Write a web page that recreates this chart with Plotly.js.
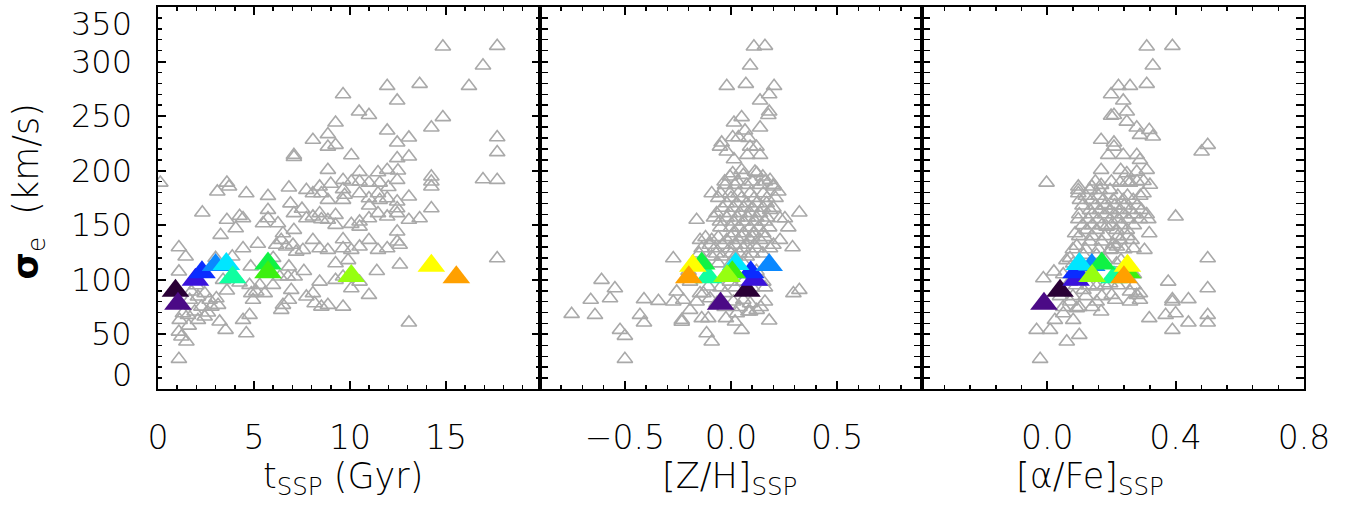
<!DOCTYPE html>
<html>
<head>
<meta charset="utf-8">
<script src="https://cdn.plot.ly/plotly-3.0.1.min.js"></script>
<style>html,body{margin:0;padding:0;background:#fff;}</style>
</head>
<body>
<div id="chart" style="width:1357px;height:505px;"></div>
<script>
// ---------- grey sample: panel 1 (t_SSP vs sigma_e) ----------
const tGrey = [14.84,17.67,16.93,16.2,11.94,13.63,9.64,12.46,10.47,10.99,14.84,14.24,9.25,11.94,8.07,8.85,8.85,9.25,12.46,13.07,17.67,17.67,7.08,7.08,10.07,12.46,13.07,8.85,10.5,11.46,11.94,12.5,9.64,10.07,10.5,10.99,11.55,12.46,14.24,14.24,14.24,16.93,17.67,0.12,3.59,3.7,3.09,4.6,5.73,6.82,7.73,8.07,8.42,8.51,8.85,9.64,9.64,9.72,10.5,10.99,11.46,11.55,11.94,12.46,12.46,13.07,14.24,13.63,13.07,2.31,3.26,3.59,4.25,4.43,4.05,5.73,5.73,5.47,6.25,7.08,7.08,7.73,8.07,8.42,8.51,8.85,9.25,9.25,10.07,10.5,10.5,10.99,11.46,11.94,12.46,6.51,6.42,6.16,6.68,7.03,7.55,7.2,8.07,8.42,8.85,9.64,9.64,10.07,10.5,10.99,11.46,11.94,12.46,12.46,12.59,1.09,1.44,1.09,1.74,4.43,4.83,3.87,6.82,6.34,6.77,7.12,5.3,5.12,5.56,5.99,6.94,6.82,6.51,6.42,8.42,9.25,9.25,9.64,10.07,10.5,10.99,7.73,8.07,8.16,8.51,8.85,9.64,4.77,4.86,4.95,4.77,4.43,4.6,3.52,3.21,2.08,2.43,2.69,3.04,2.78,3.13,2.26,1.91,1.56,2.08,2.43,1.13,1.3,1.65,1.09,1.22,1.48,1.09,13.07,17.67,3.39,3.59,4.25,
  6.9,7.5,9.0,11.0,12.0,5.2,3.0,2.0,2.6,1.6,7.6,9.9,11.4,12.6,6.0];
const sigmaGreyT = [313.7,314.3,296.3,277.6,277.6,279.5,270,264.2,254.1,251,249,239.5,244,236.7,228.2,233.4,222,223.6,225.7,230.3,230.6,216.9,214.4,212.5,214.1,211.4,212.9,200.7,198.8,198.5,200.7,200.1,191.5,190,190,189,189,191.5,194.6,190,185.4,192.1,191.5,189,189,185.4,180.8,179.3,176.8,184.5,182.3,179.3,185.4,179.3,173.2,183,173.2,177.8,179.3,174.7,179.3,173.2,174.7,171.7,165.5,176.2,165.5,156.4,154.9,161.6,141.1,154.9,158.5,156.4,147.2,164,156.4,151.8,151.8,161,145.7,156.4,157.9,161,155.5,154.9,159.4,150.3,151.2,153.3,148.7,156.4,161,157.9,161,142.6,136.5,132,130.4,132,127.4,125.8,136.5,128.9,127.4,137.1,128.9,127.4,130.4,136.5,127.4,128.9,144.2,135,132,129.8,121.3,107.5,89.2,128.9,112.1,121.3,112.1,102.9,102.9,102.9,95.3,89.2,87.7,95.3,90.7,81.6,77,72.4,98.3,115.1,99.9,102.9,92.2,98.3,86.1,84.6,87.7,78.5,75.4,77,75.4,95.3,87.7,81.6,67.8,63.2,51,54.1,61.7,84.6,87.7,81.6,83.1,75.4,77,75.4,70.9,67.8,63.2,66.3,63.2,69.3,81.6,52.5,48,43.4,27.5,60.8,119.7,99.9,90.1,97.4,
  170,165,188,168,185,133,120,95,70,58,108,118,108,114,120];

// ---------- grey sample: panel 2 ([Z/H]_SSP vs sigma_e) ----------
const zhGrey = [0.108,0.16,0.09,-0.02,0.07,0.203,0.18,0.137,0.18,0.176,0.05,0.014,0.137,0.066,0.008,-0.044,-0.052,-0.02,0.035,0.082,0.09,0.12,0.077,0.137,0.014,0.05,0.008,0.113,0.184,0.15,0.223,0.2,0.322,0.254,0.231,0.231,0.29,-0.272,-0.61,-0.547,-0.57,-0.661,-0.751,-0.641,-0.41,-0.342,-0.429,-0.41,-0.523,-0.5,-0.5,-0.232,-0.232,-0.115,-0.091,0.05,0.019,-0.024,0.09,0.18,0.16,0.294,0.322,-0.256,-0.272,-0.225,-0.193,-0.162,-0.146,-0.107,-0.138,-0.107,
  -0.005,0.058,0.121,-0.028,0.019,0.074,0.137,0.2,-0.091,-0.049,-0.005,0.035,0.09,0.152,-0.02,0.027,0.074,0.121,0.168,-0.068,-0.005,0.042,0.09,0.137,0.184,-0.162,-0.052,0.011,0.058,0.113,0.16,0.011,0.058,0.105,0.152,-0.146,-0.091,-0.02,0.035,0.09,0.137,-0.138,-0.075,-0.005,0.058,0.121,0.184,-0.091,-0.044,0.019,0.074,-0.005,0.058,0.152,-0.193,-0.13,-0.099,-0.068,-0.028,0.011,0.058,0.09,0.121,0.082,0.027,
  -0.03,0.03,0.1,0.16,-0.06,0.0,0.05,0.11,0.17,0.21,-0.04,0.01,0.06,0.1,0.15,0.2,-0.08,-0.02,0.03,0.08,0.12,0.17,-0.05,0.0,0.04,0.09,0.13,0.18,0.27,-0.12,-0.06,0.0,0.05,0.1,0.16,-0.1,-0.04,0.02,0.07,0.11,0.2,-0.15,-0.07,0.0,0.04,0.1,0.15,-0.12,-0.06,0.0,0.06,-0.2,0.12,-0.05,0.02,0.1,0.16,-0.03,0.04,0.14];
const sigmaGreyZ = [313.7,314.3,296.3,277.6,279.5,277.6,270,264.2,254.1,251,249,244,239.5,236.7,230.6,225.7,222,217.5,230.6,230,222,222,214.4,214.4,210.4,200.7,197.6,199.1,191.5,194.6,180.8,185.4,161.6,156.4,156.4,136.5,129.8,119.7,99.9,92.2,83.1,81.6,68.7,67.8,82.2,80.6,67.8,60.8,54.1,48.6,27.5,63.2,61.5,51,43.4,54.1,61.7,64.8,70.9,62.6,80,87.7,90.7,89.2,80,81.6,72.4,80,87.7,93.8,64.8,64.8,
  194.6,196.1,197.6,186.9,186.9,186.9,186.9,186.9,179.3,179.3,179.3,179.3,179.3,179.3,170.1,170.1,170.1,170.1,170.1,161,161,161,161,161,164,154.9,153.3,153.3,153.3,153.3,153.3,142.6,142.6,142.6,142.6,136.5,136.5,136.5,136.5,136.5,136.5,128.9,128.9,128.9,128.9,128.9,128.9,121.3,121.3,121.3,121.3,98.3,98.3,98.3,98.3,87.7,83,78.5,87.7,80,81.6,78.5,72.4,70.9,69.3,
  190,190,190,190,175,175,175,175,175,175,166,166,166,166,166,166,157,157,157,157,157,157,148,148,148,148,148,148,148,139,139,139,139,139,139,132,132,132,132,132,132,124,124,124,124,124,124,115,115,115,115,108,108,93,93,93,93,75,75,75];

// ---------- grey sample: panel 3 ([alpha/Fe]_SSP vs sigma_e) ----------
const afeGrey = [0.31,0.39,0.329,0.222,0.258,0.31,0.199,0.237,0.248,0.199,0.208,0.248,0.279,0.318,0.329,0.289,0.168,0.208,0.208,0.5,0.481,0.19,0.237,0.279,0.289,0.168,0.229,0.248,0.279,0.31,-0.002,0.097,0.097,0.139,0.168,0.4,0.318,0.5,0.5,0.5,0.5,0.377,0.39,0.39,0.44,0.369,0.4,0.44,0.39,0.318,-0.012,0.021,-0.033,0.009,0.061,0.1,-0.022,0.024,0.081,0.05,0.092,0.071,0.168,0.154,0.201,0.212,0.258,0.279,0.289,0.303,0.263,0.227,0.217,0.269,
  0.097,0.133,0.164,0.196,0.227,0.258,0.3,0.32,0.102,0.139,0.175,0.206,0.237,0.268,0.3,0.133,0.164,0.196,0.227,0.258,0.294,0.097,0.128,0.159,0.196,0.222,0.253,0.289,0.315,0.087,0.123,0.154,0.185,0.216,0.248,0.092,0.133,0.17,0.206,0.071,0.113,0.154,0.196,0.081,0.133,0.216,0.071,0.113,0.154,0.196,0.258,0.289,
  0.15,0.2,0.25,0.28,0.12,0.16,0.22,0.25,0.29,0.11,0.15,0.18,0.21,0.24,0.28,0.1,0.14,0.18,0.21,0.24,0.27,0.31,0.11,0.14,0.17,0.2,0.23,0.27,0.1,0.14,0.18,0.22,0.25,0.08,0.12,0.16,0.2,0.24,0.06,0.1,0.18,0.23,0.05,0.11,0.27,0.09,0.13,0.18,0.22,0.27,0.04,0.08,0.12,0.17,0.05,0.1,0.14];
const sigmaGreyA = [313.7,314.3,296.3,277.6,277.6,279.5,270,264.2,254.1,250.2,251,244.9,239.5,237.3,231.2,232.7,228.2,225.7,222,223.6,217.5,214.4,214.4,214.4,209.8,200.7,200.7,197.6,199.1,200.7,189,185.4,179.3,185.4,186.9,157.9,142.6,119.7,92.2,67.8,60.8,98.3,82.2,80,82.2,67.8,69.3,60.8,54.1,64.8,101.4,107.5,54.1,54.1,43.4,49.5,27.5,63.2,63.2,69.3,73.9,80,70.9,80,86.1,81.6,80,86.1,81.6,127.4,136.5,136.5,130.4,128.9,
  182.3,182.3,182.3,182.3,189,189,190.5,187,173.2,173.2,173.2,173.2,173.2,173.2,179.3,164,164,164,164,164,164,155.5,155.5,155.5,155.5,155.5,155.5,155.5,155.5,142.6,145.7,145.7,148.7,145.7,145.7,131.1,135,135,132.6,120,122.8,122.8,127.4,115,111,115,98.3,90.7,93.8,96.8,89.2,87.7,
  190,190,190,190,177,177,177,177,177,168,168,168,168,168,168,160,160,160,160,160,160,160,150,150,150,150,150,150,140,140,140,140,140,128,128,128,128,128,118,118,118,118,105,105,105,95,95,95,95,95,85,85,85,85,75,75,75];

// ---------- highlighted galaxies (same objects in all panels) ----------
const hiColors = ['#2a0036','#4b0a86','#3a12dc','#0a2cff','#0a88ff','#00e6ff','#10ffa0','#10f244','#3cf010','#96ff10','#ffff00','#ffa000'];
const hiSigma  = [90, 78, 100, 107, 113.5, 114.5, 102.5, 115, 107, 103.5, 113, 102.5];
const hiT      = [0.91, 1.04, 1.95, 2.29, 3.0, 3.56, 3.89, 5.73, 5.73, 10.07, 14.24, 15.54];
const hiZH     = [0.075, -0.049, 0.11, 0.093, 0.18, 0.022, -0.107, -0.138, 0.006, -0.019, -0.18, -0.199];
const hiAFe    = [0.04, -0.01, 0.09, 0.09, 0.139, 0.1, 0.208, 0.17, 0.25, 0.14, 0.25, 0.239];

// ---------- ticks & labels ----------
const yTickVals   = [0, 50, 100, 150, 200, 250, 300, 350];
const yTickLabels = ['0', '50', '100', '150', '200', '250', '300', '350'];
const x1TickVals = [0, 5, 10, 15];          const x1TickText = ['0', '5', '10', '15'];
const x2TickVals = [-0.5, 0, 0.5];          const x2TickText = ['\u22120.5', '0.0', '0.5'];
const x3TickVals = [0, 0.4, 0.8];           const x3TickText = ['0.0', '0.4', '0.8'];
const xTitles = ['t<sub>SSP</sub> (Gyr)', '[Z/H]<sub>SSP</sub>', '[\u03b1/Fe]<sub>SSP</sub>'];
const yTitle = '<b>\u03c3</b><sub>e</sub>  (km/s)';

const FONT = 'DejaVu Sans';
const greyMarker = {symbol: 'triangle-up-open', size: 13.5, color: '#a9a9a9', line: {width: 1.6, color: '#a9a9a9'}};
const hiMarker = {symbol: 'triangle-up', size: 24, color: hiColors, line: {width: 0}};

const traces = [
  {x: tGrey,   y: sigmaGreyT, xaxis: 'x',  yaxis: 'y', type: 'scatter', mode: 'markers', marker: greyMarker},
  {x: zhGrey,  y: sigmaGreyZ, xaxis: 'x2', yaxis: 'y', type: 'scatter', mode: 'markers', marker: greyMarker},
  {x: afeGrey, y: sigmaGreyA, xaxis: 'x3', yaxis: 'y', type: 'scatter', mode: 'markers', marker: greyMarker},
  {x: hiT,   y: hiSigma, xaxis: 'x',  yaxis: 'y', type: 'scatter', mode: 'markers', marker: hiMarker},
  {x: hiZH,  y: hiSigma, xaxis: 'x2', yaxis: 'y', type: 'scatter', mode: 'markers', marker: hiMarker},
  {x: hiAFe, y: hiSigma, xaxis: 'x3', yaxis: 'y', type: 'scatter', mode: 'markers', marker: hiMarker}
];

function xAxis(domain, range, tv, tt, minorDtick) {
  return {
    domain: domain, range: range, anchor: 'y',
    tickmode: 'array', tickvals: tv, ticktext: tt,
    ticks: 'inside', ticklen: 8, tickwidth: 2, tickcolor: '#000',
    minor: {tickmode: 'linear', tick0: 0, dtick: minorDtick, ticks: 'inside', ticklen: 4, tickwidth: 1.5, tickcolor: '#000', showgrid: false},
    showline: true, linewidth: 2, linecolor: '#000', mirror: 'allticks',
    showgrid: false, zeroline: false,
    tickfont: {family: FONT, size: 33, color: '#000', weight: 200},
    ticklabelstandoff: 18
  };
}

const annotations = [];
// y tick labels (end labels are pulled inside the frame as in the original)
yTickVals.forEach((v, i) => {
  let shift = 0;
  if (i === 0) shift = 14;
  if (i === yTickVals.length - 1) shift = -17;
  annotations.push({text: yTickLabels[i], x: 0, xref: 'paper', y: v, yref: 'y', xanchor: 'right', yanchor: 'middle',
    xshift: -24, yshift: shift, showarrow: false, font: {family: FONT, size: 32, color: '#000', weight: 200}});
});
// x titles
const xTitlePos = [0.161, 0.499, 0.813];
xTitles.forEach((t, i) => {
  annotations.push({text: t, x: xTitlePos[i], xref: 'paper', y: -0.235, yref: 'paper', xanchor: 'center', yanchor: 'middle',
    showarrow: false, font: {family: FONT, size: 35, color: '#000', weight: 200}});
});
// y title
annotations.push({text: yTitle, x: -0.113, xref: 'paper', y: 0.516, yref: 'paper', textangle: -90,
  xanchor: 'center', yanchor: 'middle', showarrow: false, font: {family: FONT, size: 35, color: '#000', weight: 200}});

const layout = {
  width: 1357, height: 505,
  margin: {l: 158, r: 53, t: 7, b: 116, pad: 0},
  paper_bgcolor: '#fff', plot_bgcolor: '#fff',
  showlegend: false,
  font: {family: FONT, color: '#000'},
  xaxis:  xAxis([0, 1/3],   [0, 19.9],    x1TickVals, x1TickText, 1),
  xaxis2: xAxis([1/3, 2/3], [-0.9, 0.9],  x2TickVals, x2TickText, 0.1),
  xaxis3: xAxis([2/3, 1],   [-0.39, 0.8], x3TickVals, x3TickText, 0.08),
  yaxis: {
    domain: [0, 1], range: [0, 350], anchor: 'x',
    tickmode: 'array', tickvals: yTickVals, showticklabels: false,
    ticks: 'inside', ticklen: 8, tickwidth: 2, tickcolor: '#000',
    minor: {tickmode: 'linear', tick0: 0, dtick: 10, ticks: 'inside', ticklen: 4, tickwidth: 1.5, tickcolor: '#000', showgrid: false},
    showline: true, linewidth: 2, linecolor: '#000', mirror: 'allticks',
    showgrid: false, zeroline: false
  },
  annotations: annotations
};

Plotly.newPlot('chart', traces, layout, {staticPlot: true, displayModeBar: false});
</script>
</body>
</html>
